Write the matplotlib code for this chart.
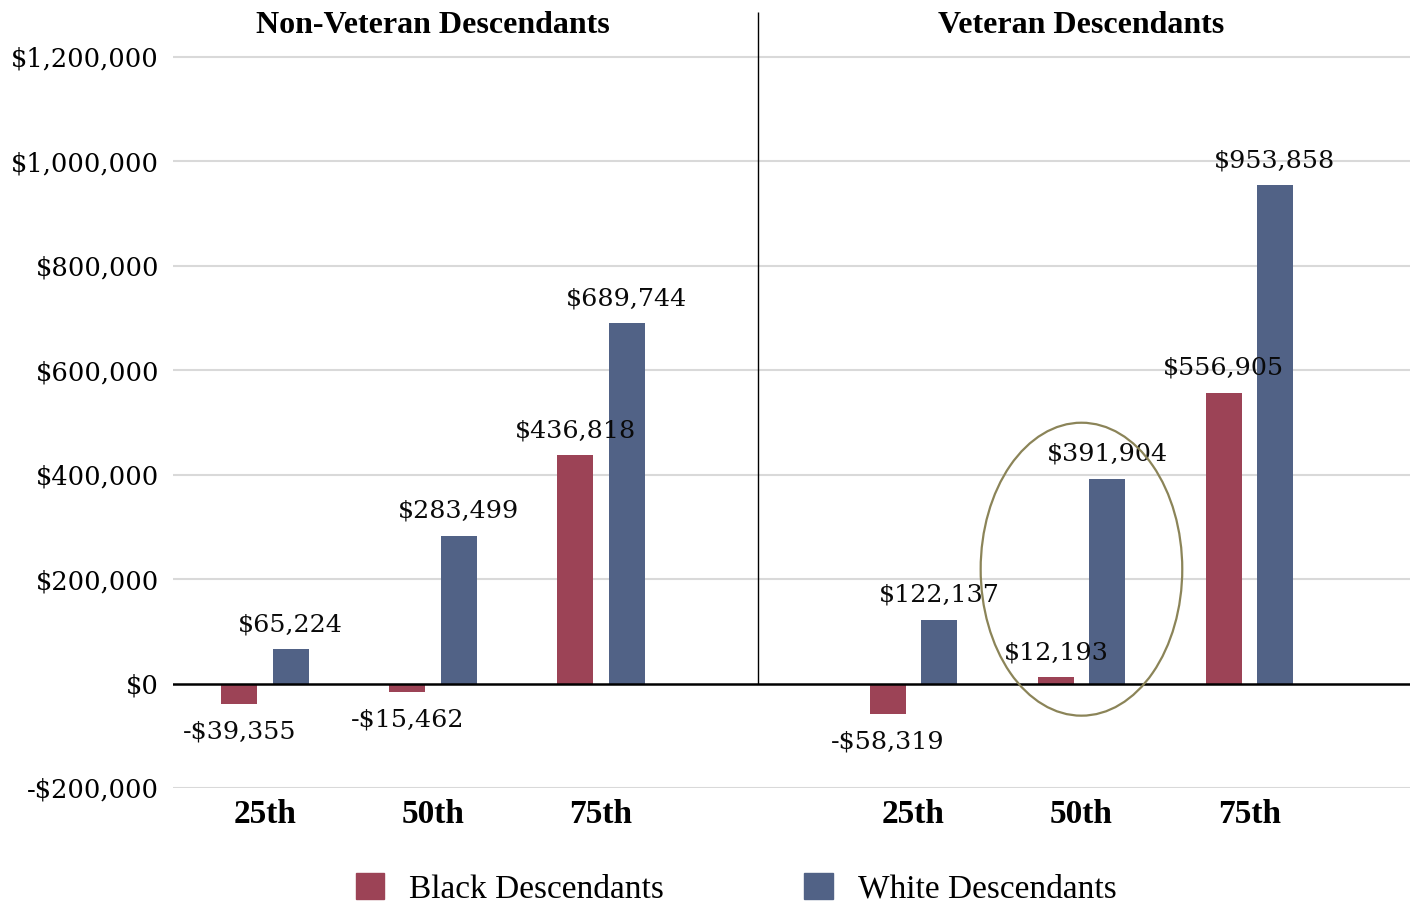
import matplotlib
matplotlib.use('Agg')
import matplotlib.pyplot as plt
import numpy as np
from matplotlib.patches import Ellipse, Patch
from matplotlib.transforms import blended_transform_factory

RED = '#9c4356'; BLUE = '#516286'; GRID = '#d9d9d9'; OLIVE = '#8b8458'
plt.rcParams['font.family'] = ['Liberation Serif', 'DejaVu Serif']
NUM = ['DejaVu Serif']

# data
percentiles = ['25th', '50th', '75th']
panels = ['Non-Veteran Descendants', 'Veteran Descendants']
black_nonvet = [-39355, -15462, 436818]
white_nonvet = [65224, 283499, 689744]
black_vet = [-58319, 12193, 556905]
white_vet = [122137, 391904, 953858]
yticks = [-200000, 0, 200000, 400000, 600000, 800000, 1000000, 1200000]

def money(v):
    return ('-$' if v < 0 else '$') + f'{abs(v):,}'

fig = plt.figure(figsize=(14.14, 9.05), dpi=100)
ax = fig.add_axes([0.1223, 0.1293, 0.8748, 0.8574])

pos_left = np.arange(3)
pos_right = np.arange(3) + 3.86
off, w = 0.152, 0.214

groups = [(pos_left, black_nonvet, white_nonvet), (pos_right, black_vet, white_vet)]
for pos, blk, wht in groups:
    ax.bar(pos - off, blk, w, color=RED, zorder=3)
    ax.bar(pos + off, wht, w, color=BLUE, zorder=3)
    for x, v in list(zip(pos - off, blk)) + list(zip(pos + off, wht)):
        dy = 19.5 if v >= 0 else -18.5
        ax.annotate(money(v), (x, v), xytext=(0, dy), textcoords='offset points',
                    ha='center', va='center_baseline', fontsize=18.3, family=NUM,
                    color='#0a0a0a', zorder=5)

ax.set_xlim(-0.548, 6.815)
ytop = 1286000
ax.set_ylim(-200000, ytop)
ax.set_yticks(yticks)
ax.set_yticklabels([money(v) for v in yticks], fontsize=18.5, family=NUM)
ax.set_xticks(np.concatenate([pos_left, pos_right]))
ax.set_xticklabels(percentiles * 2, fontsize=24, fontweight='bold')
ax.tick_params(axis='both', length=0)
ax.tick_params(axis='y', pad=10)
ax.tick_params(axis='x', pad=8)
for s in ax.spines.values():
    s.set_visible(False)
for y in yticks:
    if y != 0:
        ax.axhline(y, color=GRID, lw=1.5, zorder=1)
ax.axhline(0, color='black', lw=1.8, zorder=4)
ax.vlines(2.935, 0, ytop, color='black', lw=1, zorder=4)

# panel titles
tr = blended_transform_factory(ax.transData, fig.transFigure)
for px, title in zip([pos_left[1], pos_right[1]], panels):
    ax.text(px, 0.972, title, transform=tr, ha='center', va='center',
            fontsize=23, fontweight='bold')

# highlight ellipse around veteran 50th
ax.add_patch(Ellipse((pos_right[1], 219000), 1.2, 561000, fill=False, ec=OLIVE, lw=1.6, zorder=6))

handles = [Patch(color=RED, label='Black Descendants'), Patch(color=BLUE, label='White Descendants')]
fig.legend(handles=handles, loc='center', bbox_to_anchor=(0.5206, 0.018), ncol=2, frameon=False,
           fontsize=24, handlelength=0.85, handleheight=0.85, handletextpad=0.75, columnspacing=4.2)

plt.savefig('out.png', dpi=100, facecolor='white')
plt.close()
